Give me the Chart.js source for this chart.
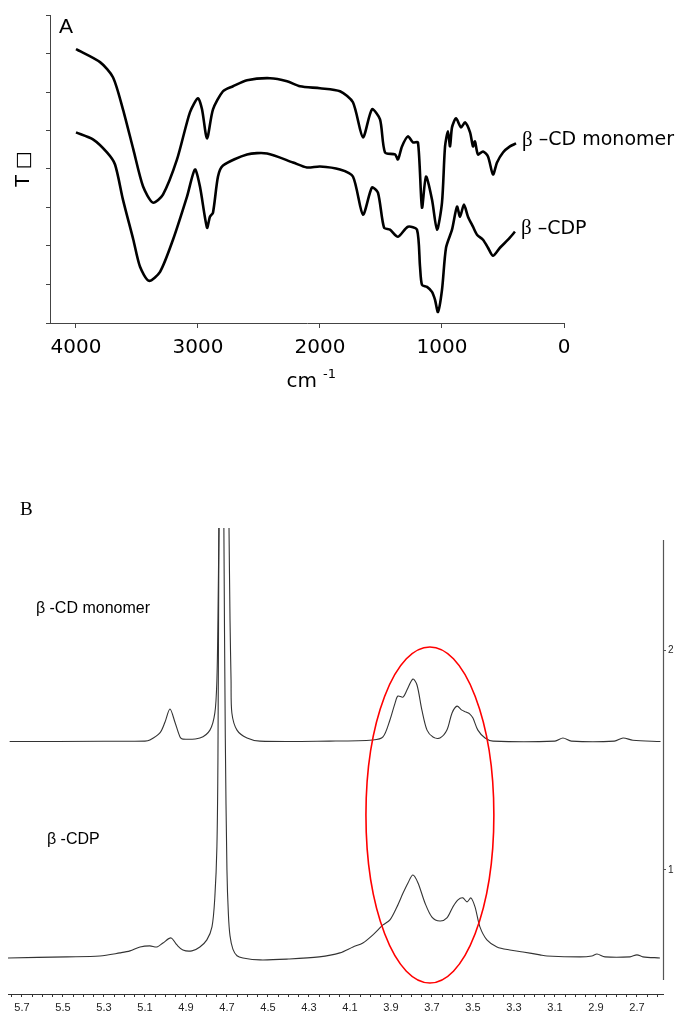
<!DOCTYPE html>
<html>
<head>
<meta charset="utf-8">
<script src="https://cdn.jsdelivr.net/npm/chart.js@4.4.0/dist/chart.umd.min.js"></script>
<style>
  body { margin: 0; background: #fff; }
  #irChart { position: absolute; left: 0; top: 0; }
  #nmrChart { position: absolute; left: 0; top: 480px; }
</style>
</head>
<body>
<canvas id="irChart" width="680" height="400"></canvas>
<canvas id="nmrChart" width="680" height="534"></canvas>
<script>
// ---- A: FT-IR (wavenumber cm-1 vs transmittance, arbitrary units) ----
const irWaveMonomer = [4000, 3803, 3697, 3615, 3530, 3450, 3369, 3287, 3172, 3066, 3000, 2967, 2926, 2877, 2795, 2713, 2598, 2410, 2270, 2164, 2000, 1836, 1730, 1648, 1574, 1508, 1467, 1385, 1361, 1328, 1279, 1238, 1197, 1164, 1131, 1082, 1041, 1000, 975, 951, 934, 918, 885, 844, 811, 770, 746, 730, 705, 664, 623, 582, 549, 500, 443, 393];
const irTransMonomer = [273, 260, 245, 213, 173, 136, 120, 128, 163, 210, 224, 213, 184, 213, 231, 236, 242, 244, 241, 236, 234, 231, 220, 185, 213, 203, 170, 168, 163, 176, 186, 180, 180, 115, 146, 123, 93, 120, 176, 191, 176, 195, 204, 195, 200, 190, 176, 181, 168, 171, 166, 148, 160, 170, 176, 179];
const irWaveCDP = [4000, 3861, 3746, 3680, 3615, 3530, 3475, 3402, 3311, 3205, 3090, 3025, 2984, 2926, 2902, 2877, 2836, 2795, 2598, 2434, 2221, 2107, 2000, 1836, 1730, 1648, 1574, 1525, 1475, 1426, 1361, 1279, 1205, 1180, 1164, 1123, 1082, 1057, 1033, 1000, 967, 918, 877, 852, 820, 787, 746, 713, 664, 623, 582, 525, 459, 402];
const irTransCDP = [190, 183, 170, 158, 123, 83, 56, 42, 51, 83, 126, 153, 136, 95, 106, 110, 146, 157, 168, 169, 160, 155, 156, 153, 146, 108, 135, 130, 95, 93, 86, 96, 93, 56, 38, 36, 31, 23, 11, 33, 75, 93, 116, 106, 118, 106, 96, 88, 83, 75, 67, 75, 83, 91];
const irXTicks = [4000, 3000, 2000, 1000, 0];
const irYTicks = [0, 38, 77, 115, 154, 192, 230, 269, 307];
const irLabels = ['\u03b2', ' \u2013CD monomer', ' \u2013CDP'];

// ---- B: 1H NMR (ppm vs intensity) ----
const nmrPpmMonomer = [5.76, 5.30, 5.10, 5.076, 5.027, 5.002, 4.978, 4.954, 4.929, 4.915, 4.832, 4.783, 4.759, 4.749, 4.744, 4.739, 4.715, 4.690, 4.685, 4.680, 4.676, 4.651, 4.602, 4.539, 4.20, 3.988, 3.939, 3.905, 3.880, 3.866, 3.841, 3.822, 3.793, 3.773, 3.749, 3.724, 3.695, 3.661, 3.627, 3.602, 3.578, 3.554, 3.534, 3.515, 3.500, 3.476, 3.441, 3.402, 3.10, 3.061, 3.02, 2.81, 2.768, 2.72, 2.585];
const nmrIntMonomer = [1.584, 1.585, 1.586, 1.591, 1.623, 1.673, 1.732, 1.673, 1.605, 1.595, 1.600, 1.636, 1.714, 1.864, 2.136, 2.559, 4.6, 2.559, 2.136, 1.864, 1.714, 1.636, 1.600, 1.586, 1.586, 1.591, 1.605, 1.682, 1.759, 1.791, 1.786, 1.818, 1.868, 1.841, 1.727, 1.636, 1.605, 1.600, 1.636, 1.714, 1.745, 1.727, 1.718, 1.709, 1.691, 1.636, 1.600, 1.586, 1.586, 1.600, 1.586, 1.586, 1.600, 1.590, 1.584];
const nmrPpmCDP = [5.768, 5.480, 5.320, 5.222, 5.173, 5.124, 5.076, 5.041, 5.012, 4.973, 4.944, 4.915, 4.871, 4.832, 4.798, 4.773, 4.759, 4.749, 4.744, 4.739, 4.727, 4.715, 4.708, 4.700, 4.693, 4.685, 4.671, 4.651, 4.622, 4.539, 4.40, 4.25, 4.149, 4.085, 4.037, 3.988, 3.939, 3.905, 3.871, 3.841, 3.817, 3.793, 3.768, 3.734, 3.700, 3.661, 3.627, 3.598, 3.573, 3.549, 3.529, 3.510, 3.490, 3.466, 3.432, 3.383, 3.320, 3.256, 3.173, 3.139, 2.978, 2.920, 2.895, 2.856, 2.734, 2.700, 2.671, 2.588];
const nmrIntCDP = [0.600, 0.605, 0.609, 0.623, 0.632, 0.650, 0.655, 0.650, 0.668, 0.691, 0.659, 0.636, 0.632, 0.650, 0.682, 0.741, 0.877, 1.105, 1.500, 2.559, 4.6, 2.559, 1.600, 1.000, 0.800, 0.700, 0.640, 0.610, 0.600, 0.591, 0.595, 0.605, 0.623, 0.650, 0.668, 0.705, 0.750, 0.773, 0.832, 0.895, 0.941, 0.977, 0.941, 0.850, 0.786, 0.768, 0.782, 0.832, 0.864, 0.873, 0.855, 0.873, 0.832, 0.741, 0.682, 0.650, 0.636, 0.627, 0.614, 0.609, 0.605, 0.609, 0.618, 0.605, 0.605, 0.614, 0.605, 0.600];
const nmrLabelTicks = ['5.7', '5.5', '5.3', '5.1', '4.9', '4.7', '4.5', '4.3', '4.1', '3.9', '3.7', '3.5', '3.3', '3.1', '2.9', '2.7'];
const nmrYTicks = [1, 2];
const nmrLabels = ['\u03b2 -CD monomer', '\u03b2 -CDP'];
// highlighted region (ellipse): centre ppm/intensity and half-widths
const ellipseCenter = [3.71, 1.25];
const ellipseRadius = [0.312, 0.764];

function pairs(xs, ys) { return xs.map((x, i) => ({ x: x, y: ys[i] })); }

const axisGray = '#444';

// plugin for the IR panel texts
const irText = {
  id: 'irText',
  afterDraw(chart) {
    const ctx = chart.ctx, a = chart.chartArea;
    const xs = chart.scales.x, ys = chart.scales.y;
    ctx.save();
    ctx.fillStyle = '#000';
    ctx.textBaseline = 'alphabetic';
    ctx.font = '21px "Liberation Sans", Arial';
    ctx.fillText('A', a.left + 9, a.top + 18);
    // x title: cm -1
    const cx = (a.left + a.right) / 2;
    ctx.font = '20px "DejaVu Sans"';
    ctx.textAlign = 'right';
    ctx.fillText('cm', cx + 10, a.bottom + 64);
    ctx.textAlign = 'left';
    ctx.font = '13px "DejaVu Sans"';
    ctx.fillText('-1', cx + 16, a.bottom + 55);
    // series labels next to the last points
    const ends = [
      [irWaveMonomer[irWaveMonomer.length - 1], irTransMonomer[irTransMonomer.length - 1], irLabels[1]],
      [irWaveCDP[irWaveCDP.length - 1], irTransCDP[irTransCDP.length - 1], irLabels[2]]
    ];
    ctx.textBaseline = 'middle';
    ends.forEach(e => {
      const px = xs.getPixelForValue(e[0]) + 6;
      const py = ys.getPixelForValue(e[1]) - 3;
      ctx.font = '21px "Liberation Serif"';
      ctx.fillText(irLabels[0], px, py);
      const w = ctx.measureText(irLabels[0]).width;
      ctx.font = '19px "DejaVu Sans"';
      ctx.fillText(e[2], px + w, py);
    });
    ctx.restore();
  }
};

new Chart(document.getElementById('irChart'), {
  type: 'line',
  data: {
    datasets: [
      { data: pairs(irWaveMonomer, irTransMonomer), borderColor: '#000', borderWidth: 2.6, pointRadius: 0, tension: 0.25 },
      { data: pairs(irWaveCDP, irTransCDP), borderColor: '#000', borderWidth: 2.6, pointRadius: 0, tension: 0.25 }
    ]
  },
  options: {
    responsive: false, animation: false,
    layout: { padding: { top: 15, right: 116, left: 0, bottom: 0 } },
    plugins: { legend: { display: false }, tooltip: { enabled: false } },
    scales: {
      x: {
        type: 'linear', reverse: true, min: 0, max: 4213,
        afterBuildTicks: s => { s.ticks = irXTicks.map(v => ({ value: v })); },
        afterFit: s => { s.height = 77; },
        border: { display: true, color: axisGray, width: 1 },
        grid: { drawOnChartArea: false, drawTicks: true, tickLength: 5, color: axisGray },
        ticks: { color: '#000', font: { family: 'DejaVu Sans', size: 20 }, padding: 8, maxRotation: 0, callback: v => String(v) }
      },
      y: {
        type: 'linear', min: 0, max: 307,
        afterBuildTicks: s => { s.ticks = irYTicks.map(v => ({ value: v })); },
        afterFit: s => { s.width = 50; },
        border: { display: true, color: axisGray, width: 1 },
        grid: { drawOnChartArea: false, drawTicks: true, tickLength: 4, color: axisGray },
        ticks: { display: false },
        title: { display: true, text: 'T \u25a1', color: '#000', font: { family: 'DejaVu Sans', size: 19 }, padding: { top: 13, bottom: 0 } }
      }
    }
  },
  plugins: [irText]
});

// plugin for the NMR panel texts, ellipse and right axis line
const nmrText = {
  id: 'nmrText',
  afterDraw(chart) {
    const ctx = chart.ctx, a = chart.chartArea;
    const xs = chart.scales.x, ys = chart.scales.y;
    ctx.save();
    ctx.fillStyle = '#000';
    ctx.font = '19px "Liberation Serif"';
    ctx.textBaseline = 'alphabetic';
    ctx.fillText('B', a.left + 12, 35);
    ctx.font = '16px "Liberation Sans", Arial';
    ctx.textBaseline = 'middle';
    ctx.fillText(nmrLabels[0], xs.getPixelForValue(5.632), ys.getPixelForValue(2.19));
    ctx.fillText(nmrLabels[1], xs.getPixelForValue(5.578), ys.getPixelForValue(1.136));
    // right axis line
    ctx.strokeStyle = '#555';
    ctx.lineWidth = 1.2;
    ctx.beginPath();
    ctx.moveTo(a.right + 0.5, ys.getPixelForValue(2.5));
    ctx.lineTo(a.right + 0.5, ys.getPixelForValue(0.5));
    ctx.stroke();
    // red ellipse
    const ex = xs.getPixelForValue(ellipseCenter[0]);
    const ey = ys.getPixelForValue(ellipseCenter[1]);
    const rx = Math.abs(xs.getPixelForValue(ellipseCenter[0] - ellipseRadius[0]) - ex);
    const ry = Math.abs(ys.getPixelForValue(ellipseCenter[1] + ellipseRadius[1]) - ey);
    ctx.strokeStyle = '#ff0000';
    ctx.lineWidth = 1.6;
    ctx.beginPath();
    ctx.ellipse(ex, ey, rx, ry, 0, 0, Math.PI * 2);
    ctx.stroke();
    ctx.restore();
  }
};

new Chart(document.getElementById('nmrChart'), {
  type: 'line',
  data: {
    datasets: [
      { data: pairs(nmrPpmMonomer, nmrIntMonomer), borderColor: '#333', borderWidth: 1.1, pointRadius: 0, tension: 0.3 },
      { data: pairs(nmrPpmCDP, nmrIntCDP), borderColor: '#333', borderWidth: 1.1, pointRadius: 0, tension: 0.3 }
    ]
  },
  options: {
    responsive: false, animation: false,
    layout: { padding: { top: 48, right: 0, left: 8, bottom: 0 } },
    plugins: { legend: { display: false }, tooltip: { enabled: false } },
    scales: {
      x: {
        type: 'linear', reverse: true, min: 2.573, max: 5.768,
        afterBuildTicks: s => {
          const t = [];
          for (let k = 575; k >= 260; k -= 5) t.push({ value: k / 100 });
          s.ticks = t;
        },
        afterFit: s => { s.height = 20; },
        border: { display: true, color: '#333', width: 1 },
        grid: { drawOnChartArea: false, drawTicks: true, tickLength: 3, color: '#333' },
        ticks: {
          color: '#222', font: { family: 'Liberation Sans', size: 11 }, padding: 4, maxRotation: 0, autoSkip: false,
          callback: v => { const s = v.toFixed(1); return (Math.abs(v * 10 - Math.round(v * 10)) < 0.01 && nmrLabelTicks.includes(s)) ? s : ''; }
        }
      },
      y: {
        type: 'linear', position: 'right', min: 0.436, max: 2.555,
        afterBuildTicks: s => { s.ticks = nmrYTicks.map(v => ({ value: v })); },
        afterFit: s => { s.width = 17; },
        border: { display: false },
        grid: { drawOnChartArea: false, drawTicks: true, tickLength: 3, color: '#555' },
        ticks: { color: '#222', font: { family: 'Liberation Sans', size: 10 }, padding: 2 }
      }
    }
  },
  plugins: [nmrText]
});
</script>
</body>
</html>
